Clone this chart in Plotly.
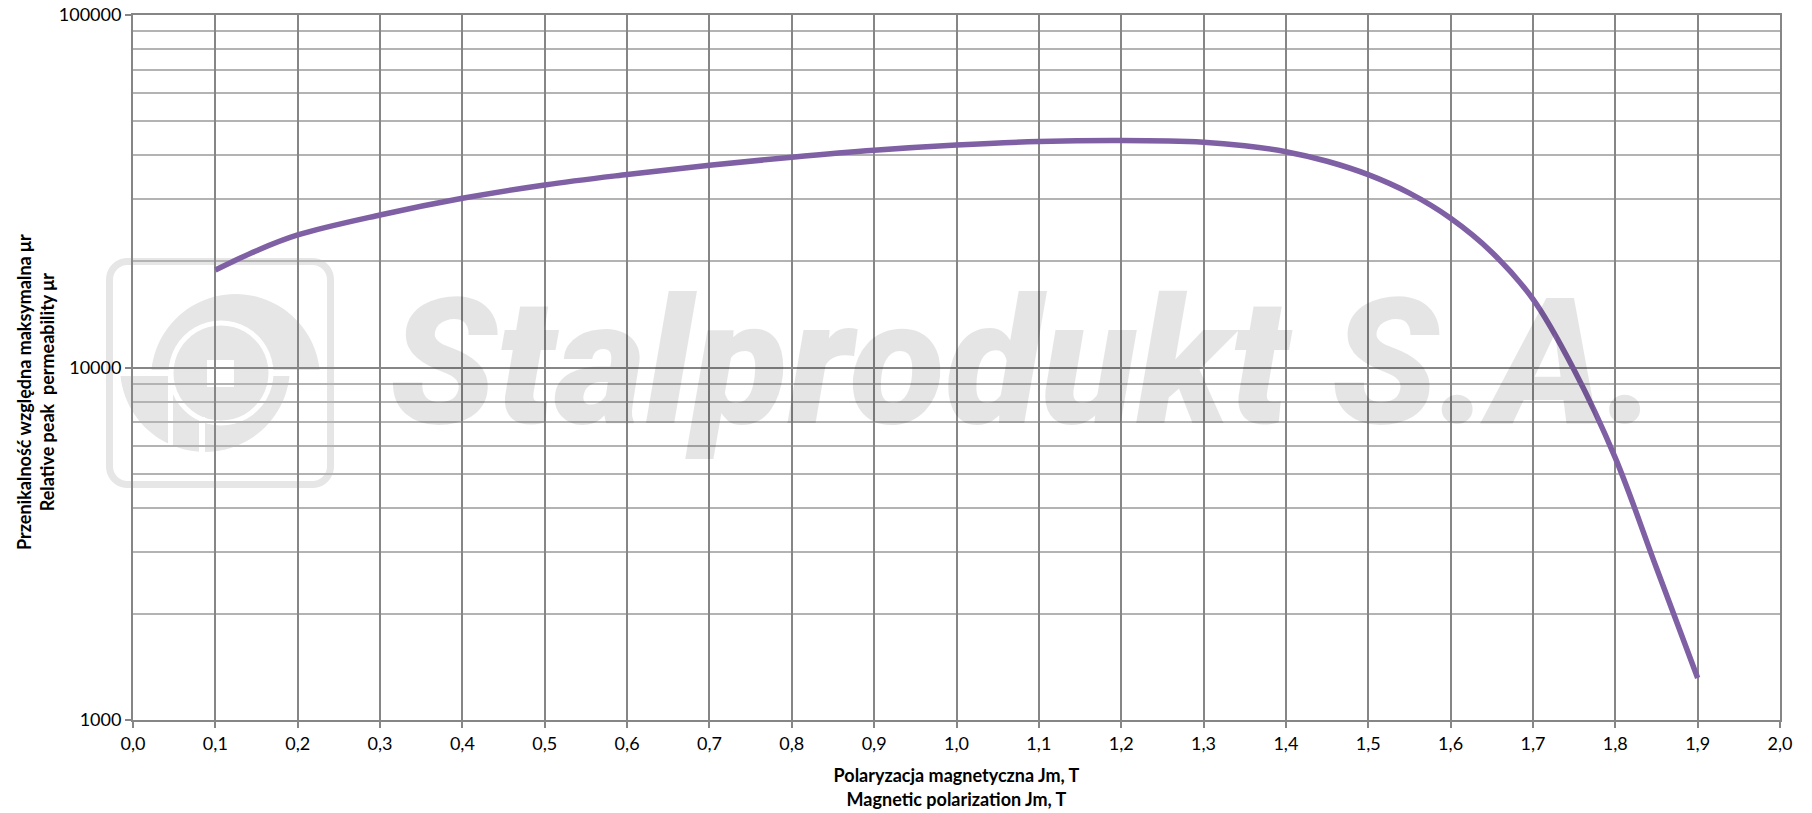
import math
import plotly.graph_objects as go

W, H = 1812, 813
L, R, T, B = 133, 1780, 15, 720

polarization = [0.1, 0.15, 0.2, 0.3, 0.4, 0.5, 0.6, 0.7, 0.8, 0.9, 1.0, 1.1, 1.2, 1.3, 1.35, 1.4, 1.45, 1.5, 1.55, 1.6, 1.65, 1.7, 1.75, 1.8, 1.85, 1.9]
permeability = [18900, 21450, 23770, 27080, 30200, 32960, 35280, 37500, 39500, 41330, 42760, 43750, 44050, 43570, 42580, 40950, 38470, 35240, 31230, 26510, 21240, 15630, 9840, 5540, 2698, 1315]
x_ticks = [i / 10 for i in range(21)]
x_labels = [f"{v:.1f}".replace(".", ",") for v in x_ticks]
y_ticks = [1000, 10000, 100000]

MAJOR = "#868686"
MINOR = "#b3b3b3"
WM = "#e6e6e6"
FONT = "Lato"

def px(x):
    return (x - L) / (R - L)

def py(y):
    return (B - y) / (B - T)

def path(points):
    return "M " + " L ".join(f"{px(a):.5f},{py(b):.5f}" for a, b in points) + " Z"

def arc(cx, cy, r, a0, a1, n=48):
    return [(cx + r * math.cos(math.radians(a0 + (a1 - a0) * i / n)), cy + r * math.sin(math.radians(a0 + (a1 - a0) * i / n))) for i in range(n + 1)]

def rrect(x0, y0, x1, y1, r):
    return arc(x0 + r, y0 + r, r, 180, 270, 10) + arc(x1 - r, y0 + r, r, 270, 360, 10) + arc(x1 - r, y1 - r, r, 0, 90, 10) + arc(x0 + r, y1 - r, r, 90, 180, 10)

def fill(points, color=WM):
    return dict(type="path", xref="paper", yref="paper", layer="below", path=path(points), fillcolor=color, line=dict(width=0))

shapes = [
    dict(type="path", xref="paper", yref="paper", layer="below", path=path(rrect(109.5, 261.5, 330.5, 484.5, 18)), fillcolor="rgba(0,0,0,0)", line=dict(color=WM, width=7)),
    fill(arc(235.5, 378.5, 84.5, 185.8, 354.2)),
    fill(arc(205, 367, 85, 6.1, 173.9)),
    fill(arc(221, 373, 52.5, 0, 360), "#ffffff"),
    fill(arc(221, 373, 47.5, 0, 360)),
    fill([(207, 360), (234, 360), (234, 387), (207, 387)], "#ffffff"),
    fill([(168, 374), (173, 374), (173, 445), (168, 445)], "#ffffff"),
    fill([(199, 417), (205, 417), (205, 455), (199, 455)], "#ffffff"),
]

fig = go.Figure(go.Scatter(
    x=polarization, y=permeability, mode="lines",
    line=dict(color="#7f60a5", width=5.5, shape="spline", smoothing=1.0),
    hoverinfo="x+y", showlegend=False,
))

annotations = [
    dict(text="Stalprodukt S.A.", xref="paper", yref="paper", x=px(1023), y=py(363), xanchor="center", yanchor="middle",
         showarrow=False, font=dict(family="Roboto", size=175.5, color="rgba(0,0,0,0.1)", weight=900, style="italic")),
    dict(text="Przenikalność względna maksymalna μr<br>Relative peak  permeability μr", xref="paper", yref="paper",
         x=px(35), y=py(392), xanchor="center", yanchor="middle", textangle=-90, showarrow=False,
         font=dict(family=FONT, size=18, color="#000000", weight=700)),
]

fig.update_layout(
    width=W, height=H, autosize=False,
    margin=dict(l=L, r=W - R, t=T, b=H - B, pad=0),
    paper_bgcolor="#ffffff", plot_bgcolor="rgba(0,0,0,0)",
    font=dict(family=FONT, size=18, color="#000000"),
    shapes=shapes, annotations=annotations,
    xaxis=dict(
        automargin=False,
        range=[0, 2], tickmode="array", tickvals=x_ticks, ticktext=x_labels,
        showgrid=True, gridcolor=MAJOR, gridwidth=1.5, zeroline=False,
        showline=True, linecolor=MAJOR, linewidth=2, mirror=True,
        ticks="outside", ticklen=6, tickcolor=MAJOR, tickwidth=1.5,
        tickfont=dict(family=FONT, size=18),
        title=dict(text="Polaryzacja magnetyczna Jm, T<br>Magnetic polarization Jm, T", standoff=17,
                   font=dict(family=FONT, size=18, color="#000000", weight=700)),
    ),
    yaxis=dict(
        automargin=False,
        type="log", range=[3, 5], tickmode="array", tickvals=y_ticks, ticktext=[str(v) for v in y_ticks],
        showgrid=True, gridcolor=MAJOR, gridwidth=2, zeroline=False,
        showline=True, linecolor=MAJOR, linewidth=2, mirror=True,
        ticks="outside", ticklen=6, tickcolor=MAJOR, tickwidth=1.5,
        tickfont=dict(family=FONT, size=18),
        minor=dict(showgrid=True, dtick="D1", gridcolor=MINOR, gridwidth=1.5, ticks=""),
    ),
)

fig.write_html("out.html", post_script="document.body.style.margin='0';", config={"displayModeBar": False})
